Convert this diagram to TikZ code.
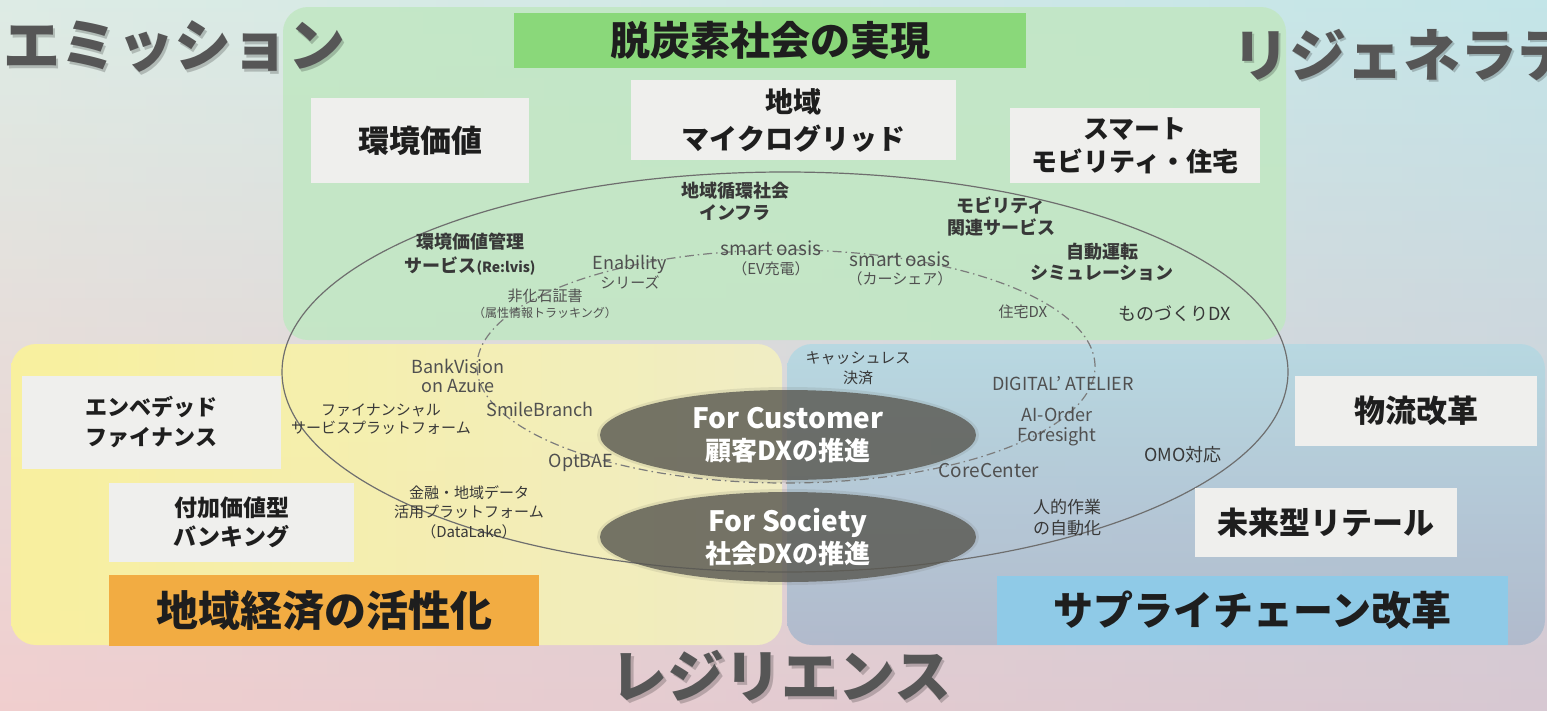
\documentclass[tikz,border=0pt]{standalone}
\usepackage{fontspec}
\setmainfont{Noto Sans CJK JP}
\usetikzlibrary{shapes.geometric}
\definecolor{bgL}{HTML}{F6F0E2}
\definecolor{bgR}{HTML}{B6E0EA}
\definecolor{bgTop}{HTML}{CDE9E7}
\definecolor{bgMid}{HTML}{F3EFE2}
\definecolor{bgBot}{HTML}{EDB8C2}
\definecolor{greg}{HTML}{C2E7C4}
\definecolor{yregL}{HTML}{FAF29A}
\definecolor{yregR}{HTML}{F2EFC2}
\definecolor{bregT}{HTML}{B6D8E2}
\definecolor{bregB}{HTML}{AEB9CC}
\definecolor{boxc}{HTML}{EFEFED}
\definecolor{titlec}{HTML}{8AD87A}
\definecolor{orangec}{HTML}{F2AC42}
\definecolor{bluec}{HTML}{8FCAE7}
\definecolor{txtdark}{HTML}{1E1E1E}
\definecolor{labc}{HTML}{383838}
\definecolor{sysc}{HTML}{505050}
\definecolor{linec}{HTML}{6E6E6E}
\definecolor{dashc}{HTML}{7C7C7C}
\definecolor{dxc}{HTML}{5A5952}
\definecolor{bigc}{HTML}{565656}
\newcommand\fz[2]{\fontsize{#1pt}{#2pt}\selectfont}
\begin{document}
\begin{tikzpicture}[x=1pt,y=-1pt,
  box/.style={fill=boxc,inner sep=0pt,align=center,text=txtdark,font=\bfseries},
  bar/.style={inner sep=0pt,align=center,text=txtdark,font=\bfseries},
  lab/.style={inner sep=0pt,align=center,text=labc},
  sys/.style={inner sep=0pt,align=center,text=sysc},
  dxell/.style={ellipse,fill=dxc,fill opacity=0.8,text opacity=1,text=white,inner sep=0pt,minimum width=376pt,minimum height=90pt,align=center},
  big/.style={inner sep=0pt,text=bigc,font=\bfseries\fz{57}{60}},
  bigsh/.style={inner sep=0pt,text=black,opacity=0.2,font=\bfseries\fz{57}{60}},
  region/.style={rounded corners=25pt}
]
\useasboundingbox (0,0) rectangle (1547,710);
\clip (0,0) rectangle (1547,710);
% background
\shade[top color=bgTop,middle color=bgMid,bottom color=bgBot] (0,0) rectangle (1547,710);
\shade[left color=bgL,right color=bgR,opacity=.4] (0,0) rectangle (1547,710);
% regions
\fill[greg,opacity=.9,region] (283,7) rectangle (1286,340);
\shade[left color=yregL,right color=yregR,opacity=.92,region] (11,344) rectangle (782,645);
\shade[top color=bregT,bottom color=bregB,opacity=.92,region] (787,344) rectangle (1545,645);
% ellipses
\node[draw=linec,line width=1.2pt,ellipse,inner sep=0pt,minimum width=1006pt,minimum height=400pt] (outer) at (785,372) {};
\node[draw=dashc,line width=1.2pt,dash pattern=on 9pt off 4pt on 1.5pt off 4pt,ellipse,inner sep=0pt,minimum width=618pt,minimum height=233pt] (inner) at (786,366.5) {};
% boxes
\node[box,minimum width=218pt,minimum height=85pt,font=\bfseries\fz{31}{36}] (kankyo) at (420,140.5) {環境価値};
\node[box,minimum width=325pt,minimum height=80pt,font=\bfseries\fz{28}{37}] (micro) at (793.5,120) {地域\\マイクログリッド};
\node[box,minimum width=250pt,minimum height=75pt,font=\bfseries\fz{26}{33}] (smart) at (1135,145.5) {スマート\\モビリティ・住宅};
\node[box,minimum width=259pt,minimum height=93pt,font=\bfseries\fz{22}{30}] (embed) at (151.5,422.5) {エンベデッド\\ファイナンス};
\node[box,minimum width=245pt,minimum height=79pt,font=\bfseries\fz{23}{29}] (fuka) at (231.5,522.5) {付加価値型\\バンキング};
\node[box,minimum width=242pt,minimum height=70pt,font=\bfseries\fz{31}{36}] (butsu) at (1416,411) {物流改革};
\node[box,minimum width=262pt,minimum height=69pt,font=\bfseries\fz{31}{36}] (mirai) at (1326,522.5) {未来型リテール};
% bars
\node[bar,fill=titlec,minimum width=512pt,minimum height=55pt,font=\bfseries\fz{40}{44}] (title) at (770,40.5) {脱炭素社会の実現};
\node[bar,fill=orangec,minimum width=430pt,minimum height=71pt,font=\bfseries\fz{42}{46}] (chiiki) at (324,610.5) {地域経済の活性化};
\node[bar,fill=bluec,minimum width=511pt,minimum height=69pt,font=\bfseries\fz{40}{44}] (supply) at (1252.5,610.5) {サプライチェーン改革};
% labels
\node[lab,font=\bfseries\fz{18}{22}] (l1) at (735,201) {地域循環社会\\インフラ};
\node[lab,font=\bfseries\fz{18}{22}] (l2) at (1001,216) {モビリティ\\関連サービス};
\node[lab,font=\bfseries\fz{18}{24}] (l3) at (470,254) {環境価値管理\\サービス{\fz{14}{24}(Re:lvis)}};
\node[lab,font=\bfseries\fz{18}{21}] (l4) at (1102,262) {自動運転\\シミュレーション};
\node[lab,font=\fz{18}{22}] (l5) at (1175,314) {ものづくりDX};
\node[lab,font=\fz{15}{18}] (l6) at (381,419) {ファイナンシャル\\サービスプラットフォーム};
\node[lab,font=\fz{15}{20}] (l7) at (858,368) {キャッシュレス\\決済};
\node[lab,font=\fz{15}{19.5}] (l8) at (469,512) {金融・地域データ\\活用プラットフォーム\\（DataLake）};
\node[lab,font=\fz{18}{22}] (l9) at (1183,455) {OMO対応};
\node[lab,font=\fz{17}{21}] (l10) at (1067,518) {人的作業\\の自動化};
% system names
\node[sys,font=\fz{18}{19}] (s1) at (630,272) {Enability\\{\fz{15}{19}シリーズ}};
\node[sys,font=\fz{19}{19}] (s2) at (771,258) {smart oasis\\{\fz{15}{19}（EV充電）}};
\node[sys,font=\fz{19}{18}] (s3) at (900,269) {smart oasis\\{\fz{15}{18}（カーシェア）}};
\node[sys,font=\fz{15}{16}] (s4) at (545,304) {非化石証書\\{\fz{12}{16}（属性情報トラッキング）}};
\node[sys,font=\fz{15}{18}] (s5) at (1023,312) {住宅DX};
\node[sys,font=\fz{18}{19}] (s6) at (458,376) {BankVision\\on Azure};
\node[sys,font=\fz{18}{19}] (s7) at (540,409) {SmileBranch};
\node[sys,font=\fz{18}{19}] (s8) at (1063,384) {DIGITAL’ ATELIER};
\node[sys,font=\fz{18}{20}] (s9) at (1057,427) {AI-Order\\Foresight};
\node[sys,font=\fz{19}{19}] (s10) at (989,471) {CoreCenter};
\node[sys,font=\fz{18}{19}] (s11) at (581,463) {OptBAE};
% DX ellipses
\fill[dxc,opacity=.12] (788,435) ellipse [x radius=191pt,y radius=48pt];
\fill[dxc,opacity=.12] (788,537) ellipse [x radius=191pt,y radius=48pt];
\node[dxell,font=\bfseries\fz{26}{32}] (cust) at (788,435) {{\fz{28}{32}For Customer}\\顧客DXの推進};
\node[dxell,font=\bfseries\fz{26}{32}] (soc) at (788,537) {{\fz{28}{32}For Society}\\社会DXの推進};
% big words
\node[bigsh,anchor=west] (emish) at (5.5,49.5) {エミッション};
\node[big,anchor=west] (emi) at (3,47) {エミッション};
\node[bigsh,anchor=west] (regensh) at (1234.5,57.5) {リジェネラテ};
\node[big,anchor=west] (regen) at (1232,55) {リジェネラテ};
\node[bigsh] (resish) at (783.5,678.5) {レジリエンス};
\node[big] (resi) at (781,676) {レジリエンス};
\end{tikzpicture}
\end{document}
